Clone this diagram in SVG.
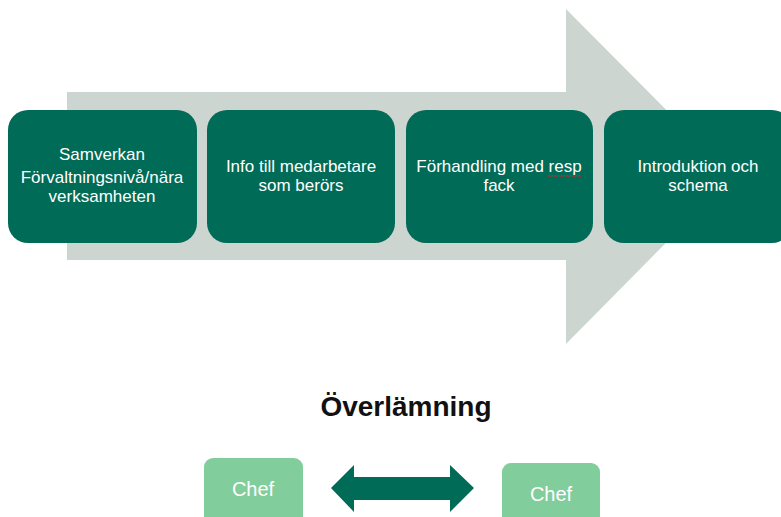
<svg xmlns="http://www.w3.org/2000/svg" width="781" height="517" viewBox="0 0 781 517">
  <style>
    .step { fill: #006B56; }
    .step-text { font-family: "Liberation Sans", Arial, sans-serif; font-size: 17px; fill: #FFFFFF; text-anchor: middle; }
    .chef { fill: #82CD9C; }
    .chef-text { font-family: "Liberation Sans", Arial, sans-serif; font-size: 20px; fill: #FFFFFF; text-anchor: middle; }
    .title { font-family: "Liberation Sans", Arial, sans-serif; font-size: 28px; font-weight: bold; fill: #111111; text-anchor: middle; }
  </style>

  <!-- large process arrow behind the steps -->
  <g id="process-arrow">
    <polygon points="67,92 566,92 566,9 732,176 566,344 566,260 67,260" fill="#CDD5D1"/>
  </g>

  <g id="step-samverkan">
    <rect class="step" x="8" y="110" width="189" height="133" rx="20" ry="20"/>
    <text class="step-text" x="102" y="160">Samverkan</text>
    <text class="step-text" x="102" y="183">Förvaltningsnivå/nära</text>
    <text class="step-text" x="102" y="202">verksamheten</text>
  </g>

  <g id="step-info">
    <rect class="step" x="207" y="110" width="188" height="133" rx="20" ry="20"/>
    <text class="step-text" x="301" y="172">Info till medarbetare</text>
    <text class="step-text" x="301" y="191">som berörs</text>
  </g>

  <g id="step-forhandling">
    <rect class="step" x="406" y="110" width="187" height="133" rx="20" ry="20"/>
    <text class="step-text" x="499" y="172">Förhandling med resp</text>
    <text class="step-text" x="499" y="191">fack</text>
    <!-- spelling squiggle under "resp" -->
    <path d="M548,176.5 l1.5,-1 l1.5,1 l1.5,-1 l1.5,1 l1.5,-1 l1.5,1 l1.5,-1 l1.5,1 l1.5,-1 l1.5,1 l1.5,-1 l1.5,1 l1.5,-1 l1.5,1 l1.5,-1 l1.5,1 l1.5,-1 l1.5,1 l1.5,-1 l1.5,1 l1.5,-1 l1.5,1" fill="none" stroke="#D03030" stroke-width="0.8"/>
  </g>

  <g id="step-introduktion">
    <rect class="step" x="604" y="110" width="188" height="133" rx="20" ry="20"/>
    <text class="step-text" x="698" y="172">Introduktion och</text>
    <text class="step-text" x="698" y="191">schema</text>
  </g>

  <g id="heading">
    <text class="title" x="406" y="416">Överlämning</text>
  </g>

  <g id="chef-left">
    <rect class="chef" x="204" y="458" width="99" height="70" rx="9" ry="9"/>
    <text class="chef-text" x="253" y="496">Chef</text>
  </g>

  <g id="chef-right">
    <rect class="chef" x="502" y="463" width="98" height="70" rx="9" ry="9"/>
    <text class="chef-text" x="551" y="501">Chef</text>
  </g>

  <g id="connectors">
    <polygon points="331,488 354,465 354,477 450,477 450,465 474,488 450,512 450,500 354,500 354,512" fill="#006B56"/>
  </g>
</svg>
